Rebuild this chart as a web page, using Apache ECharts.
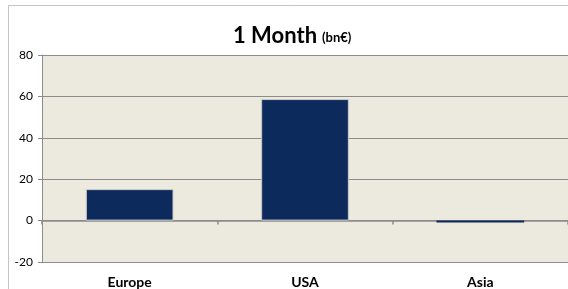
<!DOCTYPE html>
<html>
<head>
<meta charset="utf-8">
<script src="https://cdn.jsdelivr.net/npm/echarts@6/dist/echarts.min.js"></script>
<style>
  html, body { margin: 0; padding: 0; background: #fff; }
  #chart { width: 568px; height: 289px; }
</style>
</head>
<body>
<div id="chart"></div>
<script>
// flux sur 1 mois, en milliards d'euros
const regions = ['Europe', 'USA', 'Asia'];
const flows   = [15.2, 58.7, -0.9];
const yTicks  = { min: -20, max: 80, step: 20 };

const chart = echarts.init(document.getElementById('chart'), null, { renderer: 'canvas' });

const grey = '#8c8c8c';
const font = 'Lato, "Open Sans", sans-serif';

chart.setOption({
  backgroundColor: '#fff',
  animation: false,
  title: {
    left: 228, top: 20,
    text: '{a|1 Month} {b|(bn€)}',
    textStyle: {
      rich: {
        a: { fontFamily: font, fontSize: 22, fontWeight: 'bold', color: '#000' },
        b: { fontFamily: font, fontSize: 13, fontWeight: 'bold', color: '#000', padding: [4, 0, 0, 0] }
      }
    }
  },
  // cadre extérieur du graphique : seuls les bords gauche et haut sont visibles
  graphic: [{
    type: 'polyline', z: -1,
    shape: { points: [[8.5, 289], [8.5, 5.5], [568, 5.5]] },
    style: { fill: null, stroke: '#c4c4c4', lineWidth: 1 }
  }],
  grid: {
    left: 42, top: 55, width: 526, height: 207,
    show: true, backgroundColor: '#ECE9DF', borderWidth: 0, borderColor: 'transparent'
  },
  xAxis: [{
    type: 'category', data: regions,
    axisLine: { onZero: true, lineStyle: { color: grey, width: 1.5 } },
    axisTick: { show: true, length: 4, lineStyle: { color: grey, width: 1.5 } },
    axisLabel: { show: false }
  }, {
    type: 'category', data: regions, position: 'bottom',
    axisLine: { show: false }, axisTick: { show: false },
    axisLabel: { margin: 13, fontFamily: font, fontSize: 14, fontWeight: 'bold', color: '#000' }
  }],
  yAxis: {
    type: 'value', min: yTicks.min, max: yTicks.max, interval: yTicks.step,
    axisLine: { show: true, lineStyle: { color: grey, width: 1 } },
    axisTick: { show: true, length: 4, lineStyle: { color: grey } },
    axisLabel: { margin: 9, fontFamily: font, fontSize: 12, color: '#000' },
    splitLine: { show: true, lineStyle: { color: grey, width: 1 } }
  },
  series: [{
    type: 'bar', xAxisIndex: 0, barWidth: '50%', z: 3,
    data: flows.map(function (v) {
      // la barre Asie est trop fine pour garder la bordure grise
      return Math.abs(v) < 2 ? { value: v, itemStyle: { borderWidth: 0 } } : v;
    }),
    itemStyle: { color: '#0C2A5B', borderColor: '#c9c9c9', borderWidth: 1 }
  }]
});
</script>
</body>
</html>
